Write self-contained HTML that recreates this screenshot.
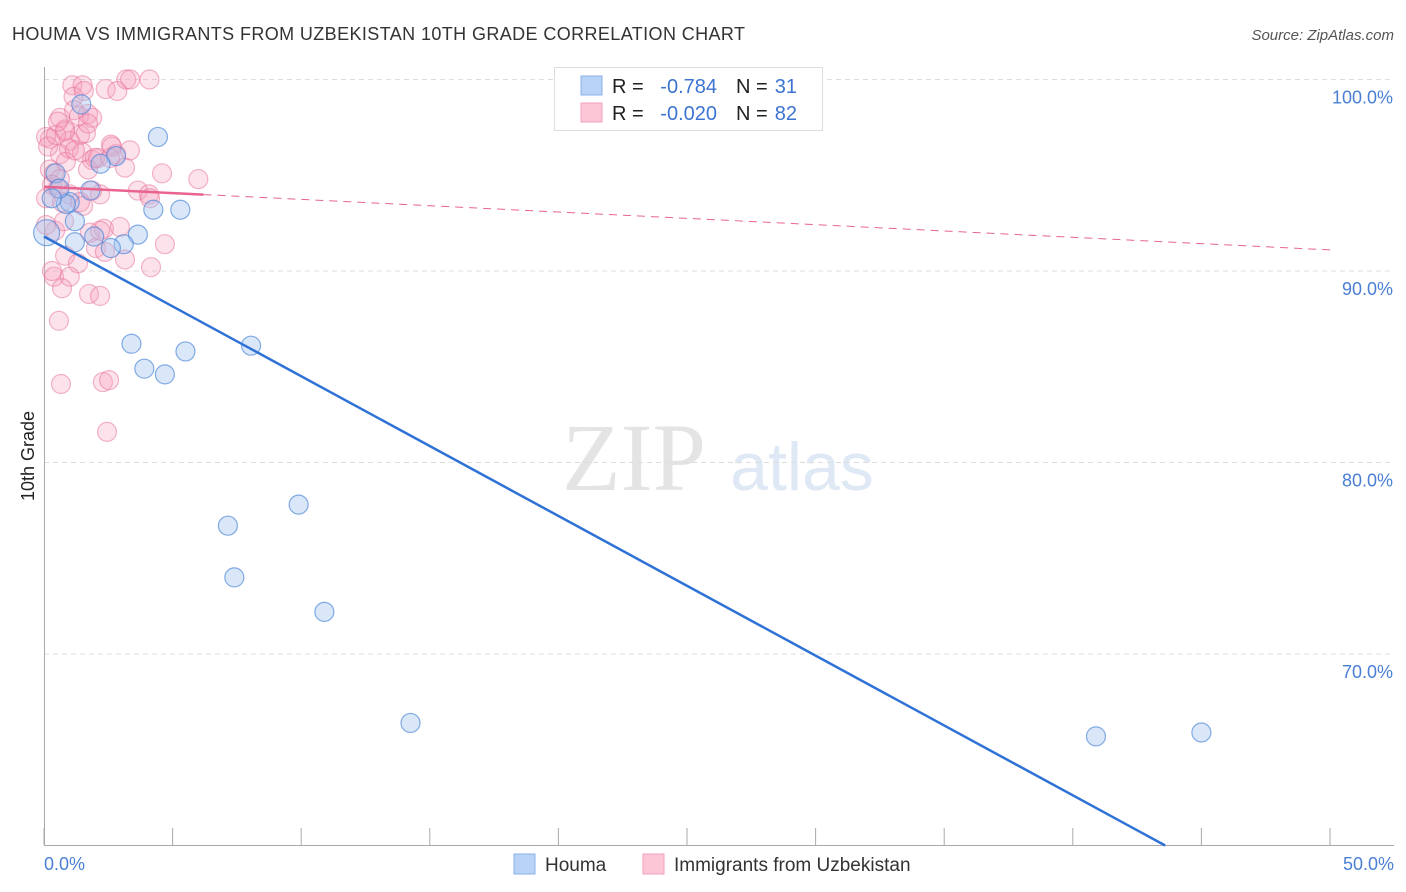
<!DOCTYPE html>
<html><head><meta charset="utf-8"><style>
body{margin:0;background:#fff;font-family:"Liberation Sans",sans-serif;}
svg{display:block}
</style></head><body>
<svg id="chart" width="1406" height="892">
<text x="12" y="40" font-size="18" fill="#333" textLength="733">HOUMA VS IMMIGRANTS FROM UZBEKISTAN 10TH GRADE CORRELATION CHART</text>
<text x="1394" y="40" font-size="15" fill="#555" font-style="italic" text-anchor="end">Source: ZipAtlas.com</text>
<text x="634" y="490" font-size="96" fill="#e4e4e4" font-family="Liberation Serif" text-anchor="middle">ZIP</text>
<text x="802" y="490" font-size="68" fill="#dfe8f5" text-anchor="middle">atlas</text>
<g id="grid"></g><g id="axes"></g><g id="pts"></g><g id="lines"></g>
<text transform="translate(34,456) rotate(-90)" font-size="18" fill="#222" text-anchor="middle">10th Grade</text>
<text x="44" y="870" font-size="18" fill="#4a7fd4">0.0%</text>
<text x="1394" y="870" font-size="18" fill="#4a7fd4" text-anchor="end">50.0%</text>
<g>
<rect x="554.5" y="67.5" width="268" height="63" fill="#fff" stroke="#ddd"/>
<rect x="581" y="76" width="21" height="19" fill="#b8d3f5" stroke="#8ab2e8"/>
<rect x="581" y="103" width="21" height="19" fill="#fcc6d6" stroke="#f2a0b9"/>
<text x="612" y="93" font-size="20" fill="#222">R =</text>
<text x="717" y="93" font-size="20" fill="#3d74d1" text-anchor="end">-0.784</text>
<text x="736" y="93" font-size="20" fill="#222">N =</text>
<text x="797" y="93" font-size="20" fill="#3d74d1" text-anchor="end">31</text>
<text x="612" y="120" font-size="20" fill="#222">R =</text>
<text x="717" y="120" font-size="20" fill="#3d74d1" text-anchor="end">-0.020</text>
<text x="736" y="120" font-size="20" fill="#222">N =</text>
<text x="797" y="120" font-size="20" fill="#3d74d1" text-anchor="end">82</text>
</g>
<g>
<rect x="514" y="854" width="21" height="20" fill="#b8d3f5" stroke="#8ab2e8"/>
<text x="545" y="871" font-size="19" fill="#333">Houma</text>
<rect x="643" y="854" width="21" height="20" fill="#fcc6d6" stroke="#f2a0b9"/>
<text x="674" y="871" font-size="19" fill="#333">Immigrants from Uzbekistan</text>
</g>
</svg>
<script>
const yTicks=[100,90,80,70];
const yTickLabels=["100.0%","90.0%","80.0%","70.0%"];
const xTicks=[0,5,10,15,20,25,30,35,40,45,50];
const houmaX=[4.43,2.8,2.2,1.45,1.8,1.0,4.25,5.3,3.65,3.1,2.6,1.2,1.95,0.85,0.45,0.1,3.4,5.5,3.9,4.7,8.05,7.15,9.9,7.4,10.9,14.25,40.9,45.0,0.6,0.3,1.2];
const houmaY=[97.0,96.0,95.6,98.7,94.2,93.6,93.2,93.2,91.9,91.4,91.2,91.5,91.8,93.5,95.1,92.0,86.2,85.8,84.9,84.6,86.1,76.7,77.8,74.0,72.2,66.4,65.7,65.9,94.3,93.8,92.6];
const uzX=[1.1,1.5,1.15,1.55,2.4,2.85,3.2,3.35,4.1,0.62,1.17,1.36,1.71,0.82,1.0,1.4,1.63,1.87,2.6,2.8,0.23,0.62,0.97,1.48,1.87,2.1,2.57,3.15,0.23,0.39,0.62,0.31,0.54,0.08,0.7,1.0,1.71,1.87,2.18,3.65,4.08,4.59,6.0,4.12,1.79,2.33,2.95,2.02,2.37,3.15,4.16,4.7,0.82,1.32,0.39,1.0,0.7,1.75,2.18,0.58,0.66,2.29,2.53,2.45,0.43,0.08,0.16,0.47,0.85,1.2,1.4,2.18,2.64,0.82,1.71,0.54,1.98,3.34,0.08,0.78,1.52,0.31];
const uzY=[99.7,99.7,99.1,99.4,99.5,99.4,100.0,100.0,100.0,98.0,98.4,98.1,98.2,97.4,96.8,97.1,97.2,98.0,96.6,96.1,96.9,96.1,96.4,96.2,95.8,95.9,95.9,95.4,95.3,95.1,94.8,94.5,94.3,93.8,93.6,94.0,95.3,94.2,94.0,94.2,94.0,95.1,94.8,93.8,92.0,92.2,92.3,91.2,91.0,90.6,90.2,91.4,90.8,90.4,89.7,89.7,89.1,88.8,88.7,87.4,84.1,84.2,84.3,81.6,92.1,97.0,96.5,97.1,95.7,96.3,93.6,92.1,96.5,97.3,97.7,97.8,95.9,96.3,92.4,92.6,93.4,90.0];
const houmaFit=[91.8,-0.7295];
const uzFit=[94.4,-0.066];
const NS="http://www.w3.org/2000/svg";
const sx=v=>44+v/50*1286, sy=v=>79.5+(100-v)*19.15;
function mk(tag,attrs,parent){const e=document.createElementNS(NS,tag);for(const k in attrs)e.setAttribute(k,attrs[k]);document.getElementById(parent).appendChild(e);return e;}
yTicks.forEach((t,i)=>{
 const l=mk('line',{x1:44,x2:1394,y1:sy(t),y2:sy(t),stroke:'#ddd','stroke-dasharray':'5,4'},'grid');
 
 
 const tx=mk('text',{x:1393,y:sy(t)+24,'font-size':18,fill:'#4a7fd4','text-anchor':'end'},'grid');
 tx.textContent=yTickLabels[i];
 
 
});
const ya=mk('line',{x1:44.5,x2:44.5,y1:67,y2:845,stroke:'#aaa'},'axes');


const xa=mk('line',{x1:44,x2:1394,y1:845.5,y2:845.5,stroke:'#aaa'},'axes');


xTicks.forEach(t=>{
 const l=mk('line',{x1:sx(t),x2:sx(t),y1:828,y2:845,stroke:'#aaa'},'axes');
 
 
});
uzX.forEach((x,i)=>{
 const c=mk('circle',{cx:sx(x),cy:sy(uzY[i]),r:9.5,fill:'rgba(246,160,188,0.3)',stroke:'rgba(232,110,150,0.5)','stroke-width':1.2},'pts');
 
 
});
houmaX.forEach((x,i)=>{
 const c=mk('circle',{cx:sx(x),cy:sy(houmaY[i]),r:i==15?13:9.5,fill:'rgba(160,196,240,0.4)',stroke:'rgba(70,130,215,0.65)','stroke-width':1.2},'pts');
 
 
});
const xEnd=(60-houmaFit[0])/houmaFit[1];
const hl=mk('line',{x1:sx(0),y1:sy(houmaFit[0]),x2:sx(xEnd),y2:sy(60),stroke:'#2f72d6','stroke-width':2.5},'lines');


const ps=mk('line',{x1:sx(0),y1:sy(uzFit[0]),x2:sx(6.2),y2:sy(uzFit[0]+uzFit[1]*6.2),stroke:'#e8648f','stroke-width':2.5},'lines');


const pd=mk('line',{x1:sx(6.2),y1:sy(uzFit[0]+uzFit[1]*6.2),x2:sx(50),y2:sy(uzFit[0]+uzFit[1]*50),stroke:'#e8648f','stroke-width':1,'stroke-dasharray':'8,6'},'lines');


</script>
</body></html>
